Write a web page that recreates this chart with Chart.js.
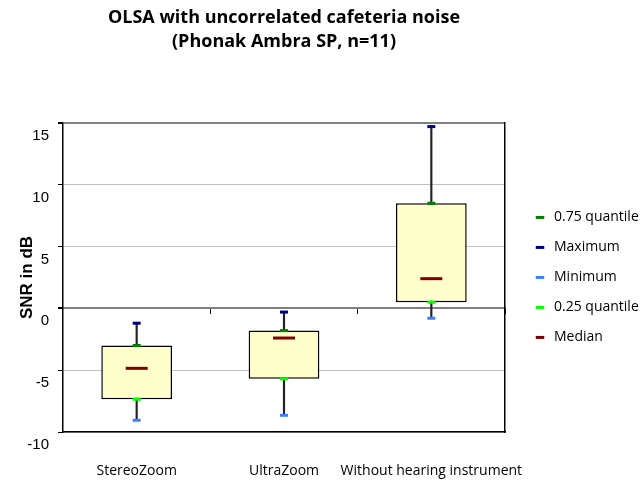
<!DOCTYPE html>
<html>
<head>
<meta charset="utf-8">
<script src="https://cdn.jsdelivr.net/npm/chart.js@4.4.0/dist/chart.umd.min.js"></script>
<style>
	html, body { margin: 0; padding: 0; background: #fff; }
</style>
</head>
<body>
<canvas id="myChart" width="643" height="480"></canvas>
<script>
// values (SNR in dB)
var categories = ['StereoZoom', 'UltraZoom', 'Without hearing instrument'];
var maximum = [-1.2, -0.3, 14.7];
var quant75 = [-3.0, -1.8, 8.5];
var median  = [-4.85, -2.4, 2.4];
var quant25 = [-7.35, -5.7, 0.5];
var minimum = [-9.05, -8.65, -0.8];
var yTicks  = [-10, -5, 0, 5, 10, 15];

var whiskers = [];
var boxes = [];
for (var i = 0; i < categories.length; i++) {
	whiskers.push([minimum[i], maximum[i]]);
	boxes.push([quant25[i], quant75[i]]);
}

function marker(label, data, color, radius, order) {
	return {
		type: 'line',
		label: label,
		data: data,
		order: order,
		showLine: false,
		pointStyle: 'line',
		pointRadius: radius,
		pointHoverRadius: radius,
		pointBorderWidth: 3,
		pointHoverBorderWidth: 3,
		pointBorderColor: color,
		pointBackgroundColor: color,
		borderColor: color,
		backgroundColor: color
	};
}

Chart.defaults.font.family = "'Open Sans', sans-serif";
Chart.defaults.color = '#000';

var ctx = document.getElementById('myChart').getContext('2d');

var myChart = new Chart(ctx, {
	type: 'bar',
	data: {
		labels: categories,
		datasets: [
			{
				label: 'whisker',
				data: whiskers,
				order: 11,
				grouped: false,
				barThickness: 1.5,
				backgroundColor: '#222',
				borderWidth: 0
			},
			{
				label: 'box',
				data: boxes,
				order: 10,
				grouped: false,
				barPercentage: 0.48,
				categoryPercentage: 1,
				backgroundColor: '#FFFFCC',
				borderColor: '#000',
				borderWidth: 1.5,
				borderSkipped: false
			},
			marker('0.75 quantile', quant75, '#008000', 4, 1),
			marker('Maximum', maximum, '#000080', 4, 2),
			marker('Minimum', minimum, '#3F7FFF', 4, 3),
			marker('0.25 quantile', quant25, '#00FF00', 4, 4),
			marker('Median', median, '#800000', 11, 5)
		]
	},
	options: {
		responsive: false,
		animation: false,
		layout: { padding: 0 },
		plugins: {
			tooltip: { enabled: false },
			title: {
				display: true,
				fullSize: false,
				text: ['OLSA with uncorrelated cafeteria noise', '(Phonak Ambra SP, n=11)'],
				font: { size: 18, weight: 'bold', lineHeight: 1.33 },
				color: '#000',
				padding: { top: 6, bottom: 69 }
			},
			legend: {
				position: 'right',
				fullSize: false,
				maxWidth: 126,
				labels: {
					usePointStyle: true,
					boxHeight: 6,
					padding: 16,
					font: { size: 14 },
					filter: function(item) {
						return item.text != 'whisker' && item.text != 'box';
					}
				}
			}
		},
		scales: {
			x: {
				grid: { drawOnChartArea: false, drawTicks: false },
				border: { color: '#000', width: 1.5 },
				ticks: { padding: 31, font: { size: 14 }, maxRotation: 0, autoSkip: false },
				afterFit: function(axis) { axis.height = 48; }
			},
			x2: {
				type: 'category',
				axis: 'x',
				labels: categories,
				position: { y: 0 },
				offset: true,
				grid: { drawOnChartArea: false, tickLength: 5, offset: true, color: '#000' },
				border: { color: '#808080', width: 2 },
				ticks: { display: false },
				afterFit: function(axis) { axis.height = 0; }
			},
			y: {
				min: Math.min.apply(null, yTicks),
				max: Math.max.apply(null, yTicks),
				ticks: {
					stepSize: 5,
					labelOffset: 13,
					padding: 9,
					font: { family: "'Liberation Sans', Arial, sans-serif", size: 15 }
				},
				grid: {
					tickLength: 5,
					tickColor: '#000',
					color: function(c) {
						if (c.tick && (c.tick.value == 0 || c.tick.value == 15)) return '#808080';
						return '#C0C0C0';
					},
					lineWidth: function(c) {
						if (c.tick && (c.tick.value == 0 || c.tick.value == 15)) return 2;
						return 1;
					}
				},
				border: { color: '#000', width: 1.5 },
				title: {
					display: true,
					text: 'SNR in dB',
					font: { family: "'Liberation Sans', Arial, sans-serif", size: 17, weight: 'bold' },
					padding: { top: 17, bottom: 0 }
				},
				afterFit: function(axis) { axis.width = 63; }
			},
			y2: {
				position: 'right',
				grid: { drawOnChartArea: false, drawTicks: false },
				ticks: { display: false },
				border: { color: '#000', width: 1.5 },
				afterFit: function(axis) { axis.width = 12; }
			}
		}
	}
});
</script>
</body>
</html>
